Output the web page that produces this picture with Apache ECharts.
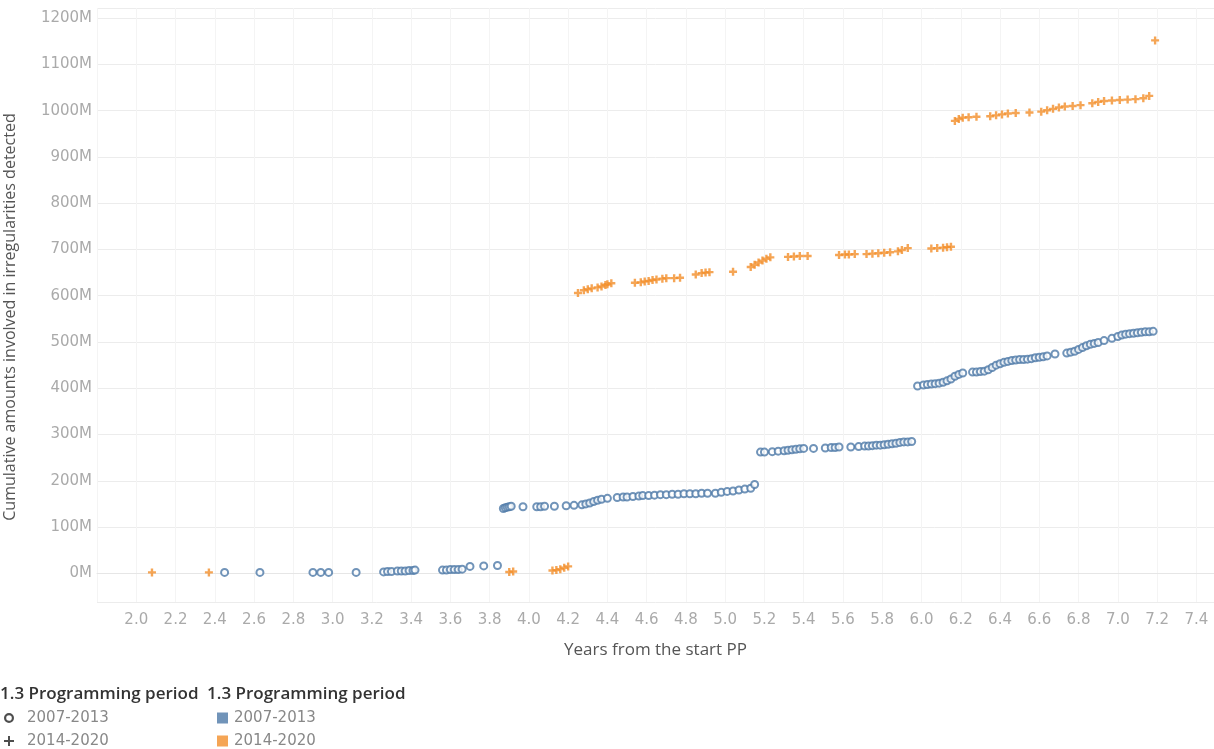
<!DOCTYPE html>
<html>
<head>
<meta charset="utf-8">
<script src="https://cdn.jsdelivr.net/npm/echarts@6/dist/echarts.min.js"></script>
<style>
  html, body { margin: 0; padding: 0; background: #fff; }
  #chart { width: 1214px; height: 749px; }
</style>
</head>
<body>
<div id="chart"></div>
<script>
// Programming periods (legend categories)
const periods = ['2007-2013', '2014-2020'];
const legendTitle = '1.3 Programming period';
const xTitle = 'Years from the start PP';
const yTitle = 'Cumulative amounts involved in irregularities detected';

// [years from start PP, cumulative amount in millions]
const pp2007 = [
  [2.45,2],[2.63,2],[2.90,2],[2.94,2],[2.98,2],[3.12,2],[3.26,3],[3.28,4],[3.30,4],[3.33,5],[3.35,5],[3.37,5],[3.39,6],[3.41,6],[3.42,7],
  [3.56,7],[3.58,7],[3.60,8],[3.62,8],[3.64,8],[3.66,9],[3.70,15],[3.77,16],[3.84,17],
  [3.87,140],[3.88,142],[3.89,143],[3.90,144],[3.91,145],[3.97,144],[4.04,144],[4.06,144],[4.08,145],[4.13,145],[4.19,146],[4.23,147],
  [4.27,148],[4.29,150],[4.31,152],[4.33,155],[4.35,158],[4.37,160],[4.40,162],[4.45,164],[4.48,165],[4.50,165],[4.53,166],[4.56,167],
  [4.58,168],[4.61,168],[4.64,169],[4.67,170],[4.70,170],[4.73,171],[4.76,171],[4.79,172],[4.82,172],[4.85,172],[4.88,173],[4.91,173],
  [4.95,173],[4.98,175],[5.01,177],[5.04,178],[5.07,180],[5.10,182],[5.13,184],[5.15,192],
  [5.18,262],[5.20,262],[5.24,263],[5.27,264],[5.30,265],[5.32,266],[5.34,267],[5.36,268],[5.38,269],[5.40,270],[5.45,270],[5.51,271],
  [5.54,272],[5.56,272],[5.58,273],[5.64,273],[5.68,274],[5.71,275],[5.73,275],[5.75,276],[5.77,277],[5.79,277],[5.81,278],[5.83,279],
  [5.85,280],[5.87,281],[5.89,283],[5.91,284],[5.93,284],[5.95,285],
  [5.98,405],[6.01,407],[6.03,408],[6.05,409],[6.07,410],[6.09,411],[6.11,413],[6.13,416],[6.15,420],[6.17,426],[6.19,430],[6.21,433],
  [6.26,435],[6.28,435],[6.30,436],[6.32,437],[6.34,440],[6.36,445],[6.38,450],[6.40,453],[6.42,456],[6.44,458],[6.46,460],[6.48,461],
  [6.50,462],[6.52,462],[6.54,463],[6.56,464],[6.58,466],[6.60,467],[6.62,468],[6.64,470],[6.68,474],[6.74,476],[6.76,478],[6.78,480],
  [6.80,484],[6.82,488],[6.84,492],[6.86,495],[6.88,497],[6.90,499],[6.93,503],[6.97,508],[7.00,512],[7.02,515],[7.04,517],[7.06,518],
  [7.08,519],[7.10,520],[7.12,521],[7.14,522],[7.16,522],[7.18,523]
];
const pp2014 = [
  [2.08,2],[2.37,2],[3.90,3],[3.92,4],[4.12,6],[4.14,7],[4.16,9],[4.18,12],[4.20,15],
  [4.25,606],[4.28,612],[4.30,614],[4.32,616],[4.35,618],[4.37,620],[4.39,623],[4.40,625],[4.42,627],
  [4.54,628],[4.57,629],[4.59,631],[4.61,632],[4.63,634],[4.65,635],[4.68,637],[4.70,638],[4.74,638],[4.77,639],
  [4.85,646],[4.88,649],[4.90,650],[4.92,651],
  [5.04,652],[5.13,662],[5.15,667],[5.17,672],[5.19,676],[5.21,680],[5.23,683],
  [5.32,684],[5.35,685],[5.38,686],[5.42,686],
  [5.58,688],[5.61,689],[5.63,689],[5.66,690],
  [5.72,690],[5.75,691],[5.78,692],[5.81,693],[5.84,694],[5.88,696],[5.90,699],[5.93,703],
  [6.05,702],[6.08,703],[6.11,704],[6.13,705],[6.15,706],
  [6.17,978],[6.19,982],[6.21,985],[6.24,986],[6.28,987],[6.35,988],[6.38,990],[6.41,992],[6.44,994],[6.48,995],[6.55,996],
  [6.61,998],[6.64,1001],[6.67,1004],[6.70,1007],[6.73,1009],[6.77,1010],[6.81,1012],[6.87,1016],[6.90,1019],[6.93,1021],
  [6.97,1022],[7.01,1023],[7.05,1024],[7.09,1025],[7.13,1027],[7.16,1032],[7.19,1152]
];

const BLUE = '#4e79a7';
const ORANGE = '#f28e2b';
const CROSS = 'path://M3.5,0 L6.5,0 L6.5,3.5 L10,3.5 L10,6.5 L6.5,6.5 L6.5,10 L3.5,10 L3.5,6.5 L0,6.5 L0,3.5 L3.5,3.5 Z';
const THIN_CROSS = 'path://M4,0 L6,0 L6,4 L10,4 L10,6 L6,6 L6,10 L4,10 L4,6 L0,6 L0,4 L4,4 Z';
const RING = 'path://M5,0 A5,5 0 1,1 4.99,0 Z M5,2.2 A2.8,2.8 0 1,0 5.01,2.2 Z';
const TICK_FONT = 'DejaVu Sans';
const TITLE_FONT = 'Open Sans';

// one legend component per row, so rows never wrap
const rowTops = [710, 733];
const shapeIcons = [RING, THIN_CROSS];
const colors = [BLUE, ORANGE];
const legends = [];
periods.forEach((p, i) => {
  legends.push({
    orient: 'horizontal', left: 4, top: rowTops[i], padding: 0, itemWidth: 10, itemHeight: 10,
    selectedMode: false,
    textStyle: { fontFamily: TICK_FONT, fontSize: 15, lineHeight: 16, color: '#888', padding: [0, 0, 0, 8] },
    data: [{ name: p, icon: shapeIcons[i], itemStyle: { color: '#222', borderWidth: 0 } }]
  });
  legends.push({
    orient: 'horizontal', left: 217, top: rowTops[i], padding: 0, itemWidth: 11, itemHeight: 11,
    selectedMode: false,
    textStyle: { fontFamily: TICK_FONT, fontSize: 15, lineHeight: 16, color: '#888', padding: [0, 0, 0, 1] },
    data: [{ name: p, icon: 'rect', itemStyle: { color: colors[i], borderWidth: 0 } }]
  });
});

const chart = echarts.init(document.getElementById('chart'), null, { renderer: 'canvas' });
chart.setOption({
  animation: false,
  backgroundColor: '#ffffff',
  title: [
    { text: legendTitle, left: 0, top: 686, padding: 0, textStyle: { fontFamily: TITLE_FONT, fontSize: 17, fontWeight: 600, color: '#333' } },
    { text: legendTitle, left: 207, top: 686, padding: 0, textStyle: { fontFamily: TITLE_FONT, fontSize: 17, fontWeight: 600, color: '#333' } }
  ],
  legend: legends,
  grid: { left: 97, right: 0, top: 8, bottom: 147, containLabel: false, outerBoundsMode: 'none' },
  xAxis: {
    type: 'value', min: 1.8, max: 7.49, interval: 0.2,
    name: xTitle, nameLocation: 'middle', nameGap: 40,
    nameTextStyle: { fontFamily: TITLE_FONT, fontSize: 17, color: '#555' },
    axisLine: { show: true, lineStyle: { color: '#e6e6e6' } },
    axisTick: { show: false },
    axisLabel: {
      margin: 11, fontFamily: TICK_FONT, fontSize: 15, color: '#aaa',
      formatter: v => (v < 1.95 || v > 7.45) ? '' : v.toFixed(1)
    },
    splitLine: { show: true, lineStyle: { color: '#f4f4f4' } }
  },
  yAxis: {
    type: 'value', min: -62, max: 1222, splitNumber: 13,
    name: yTitle, nameLocation: 'middle', nameGap: 79, nameRotate: 90,
    nameTextStyle: { fontFamily: TITLE_FONT, fontSize: 16, color: '#555', padding: [0, 24, 0, 0] },
    axisLine: { show: false },
    axisTick: { show: false },
    axisLabel: {
      margin: 5, fontFamily: TICK_FONT, fontSize: 15, color: '#aaa',
      formatter: v => (v < 0 || v > 1200) ? '' : Math.round(v) + 'M'
    },
    splitLine: { show: true, lineStyle: { color: '#ececec' } }
  },
  series: [
    {
      name: periods[0], type: 'scatter', data: pp2007,
      symbol: 'emptyCircle', symbolSize: 7,
      itemStyle: { color: BLUE, borderColor: BLUE, borderWidth: 1.6 }
    },
    {
      name: periods[1], type: 'scatter', data: pp2014,
      symbol: CROSS, symbolSize: 8,
      itemStyle: { color: ORANGE }
    }
  ]
});
</script>
</body>
</html>
